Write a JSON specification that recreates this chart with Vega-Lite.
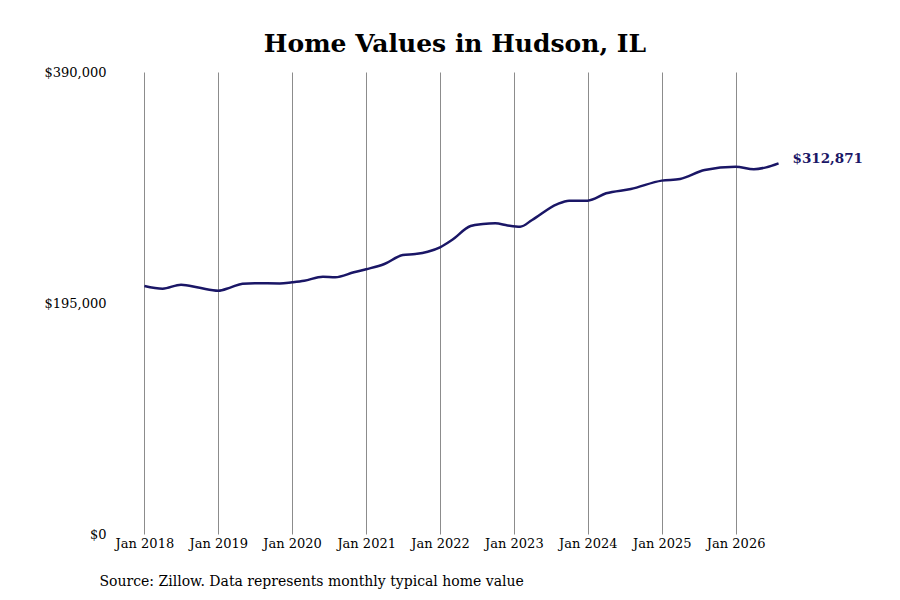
{
  "$schema": "https://vega.github.io/schema/vega-lite/v6.json",
  "width": 690,
  "height": 462,
  "autosize": {"type": "none"},
  "padding": {"left": 110, "top": 72, "right": 100, "bottom": 66},
  "background": "white",
  "title": {
    "text": "Home Values in Hudson, IL",
    "font": "DejaVu Serif",
    "fontSize": 25,
    "fontWeight": "bold",
    "color": "black",
    "anchor": "middle",
    "offset": 9
  },
  "config": {
    "view": {"stroke": null},
    "font": "DejaVu Serif"
  },
  "data": {
    "values": [
      {"date": "2018-01-01", "value": 209400},
      {"date": "2018-04-01", "value": 207100},
      {"date": "2018-07-01", "value": 210500},
      {"date": "2018-10-01", "value": 207800},
      {"date": "2019-01-01", "value": 205400},
      {"date": "2019-03-01", "value": 208000},
      {"date": "2019-05-01", "value": 211300},
      {"date": "2019-07-01", "value": 211700},
      {"date": "2019-11-01", "value": 211500},
      {"date": "2020-01-01", "value": 212500},
      {"date": "2020-03-01", "value": 213800},
      {"date": "2020-06-01", "value": 217200},
      {"date": "2020-08-01", "value": 216700},
      {"date": "2020-11-01", "value": 220900},
      {"date": "2021-01-01", "value": 223500},
      {"date": "2021-04-01", "value": 227900},
      {"date": "2021-07-01", "value": 235500},
      {"date": "2021-09-01", "value": 236400},
      {"date": "2021-11-01", "value": 238300},
      {"date": "2022-01-01", "value": 242000},
      {"date": "2022-03-01", "value": 248200},
      {"date": "2022-06-01", "value": 260000},
      {"date": "2022-08-01", "value": 261700},
      {"date": "2022-10-01", "value": 262300},
      {"date": "2022-12-01", "value": 260500},
      {"date": "2023-02-01", "value": 259400},
      {"date": "2023-04-01", "value": 265100},
      {"date": "2023-08-01", "value": 278300},
      {"date": "2023-10-01", "value": 281400},
      {"date": "2024-01-01", "value": 281400},
      {"date": "2024-04-01", "value": 287600},
      {"date": "2024-08-01", "value": 291200},
      {"date": "2025-01-01", "value": 298300},
      {"date": "2025-04-01", "value": 299700},
      {"date": "2025-08-01", "value": 307300},
      {"date": "2026-01-01", "value": 310100},
      {"date": "2026-04-01", "value": 307900},
      {"date": "2026-06-01", "value": 309500},
      {"date": "2026-08-01", "value": 312871, "label": "$312,871"}
    ]
  },
  "encoding": {
    "x": {
      "field": "date",
      "type": "temporal",
      "scale": {"domain": ["2017-07-15", "2026-11-15"]},
      "axis": {
        "title": "Source: Zillow. Data represents monthly typical home value",
        "titleFont": "DejaVu Serif",
        "titleFontSize": 14,
        "titleFontWeight": "normal",
        "titleColor": "black",
        "titleAnchor": "start",
        "titleAlign": "left",
        "titleX": -11,
        "titleY": 40,
        "format": "%b %Y",
        "tickCount": {"interval": "year", "step": 1},
        "labelFont": "DejaVu Serif",
        "labelFontSize": 13,
        "labelColor": "black",
        "labelPadding": 3,
        "labelOverlap": false,
        "domain": false,
        "ticks": false,
        "grid": true,
        "gridColor": "#8c8c8c",
        "gridWidth": 1
      }
    },
    "y": {
      "field": "value",
      "type": "quantitative",
      "scale": {"domain": [0, 390000], "nice": false},
      "axis": {
        "title": null,
        "values": [0, 195000, 390000],
        "format": "$,.0f",
        "labelFont": "DejaVu Serif",
        "labelFontSize": 13,
        "labelColor": "black",
        "labelPadding": 4,
        "domain": false,
        "ticks": false,
        "grid": false
      }
    }
  },
  "layer": [
    {
      "mark": {"type": "line", "color": "#1a1666", "strokeWidth": 2.5, "interpolate": "monotone"}
    },
    {
      "transform": [{"filter": "datum.label != null"}],
      "mark": {
        "type": "text",
        "align": "left",
        "baseline": "middle",
        "dx": 14,
        "dy": -4,
        "font": "DejaVu Serif",
        "fontSize": 13.5,
        "fontWeight": "bold",
        "color": "#1a1666"
      },
      "encoding": {
        "text": {"field": "label"}
      }
    }
  ]
}
